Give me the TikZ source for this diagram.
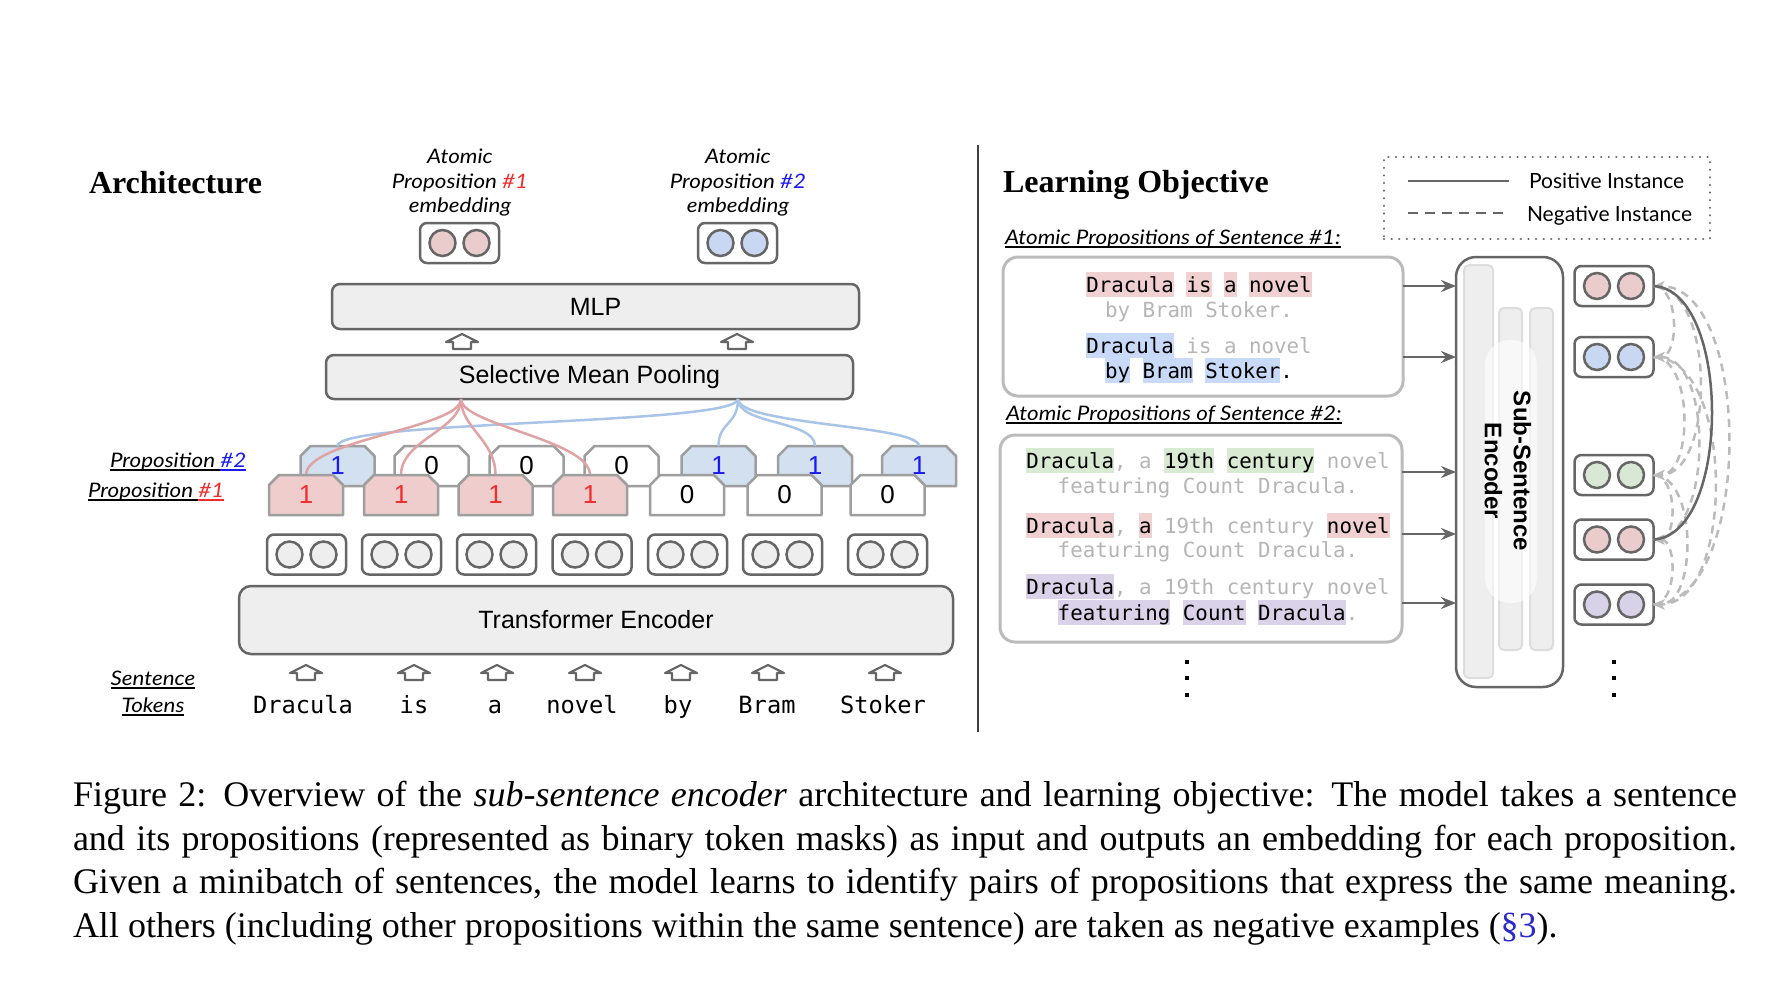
\documentclass[tikz,border=0pt]{standalone}
\usepackage{fontspec}
\setmainfont{Liberation Serif}
\newfontfamily\arialf{Liberation Sans}
\newfontfamily\gothf[FakeStretch=1.12]{Lato}
\newfontfamily\gothu{Lato}
\newfontfamily\monof{DejaVu Sans Mono}
\usetikzlibrary{arrows.meta}

\definecolor{linegray}{HTML}{666666}
\definecolor{boxgray}{HTML}{EEEEEE}
\definecolor{barline}{HTML}{DDDDDD}
\definecolor{maskgray}{HTML}{9E9E9E}
\definecolor{pinkc}{HTML}{EBCCCC}
\definecolor{bluec}{HTML}{C9D8F2}
\definecolor{greenc}{HTML}{D9E8D4}
\definecolor{purplec}{HTML}{D7D2E7}
\definecolor{maskpink}{HTML}{EFCDCD}
\definecolor{maskblue}{HTML}{D2E0F0}
\definecolor{redline}{HTML}{E0A3A3}
\definecolor{blueline}{HTML}{A8C4E6}
\definecolor{txtgray}{HTML}{B5B5B5}
\definecolor{sboxc}{HTML}{BBBBBB}
\definecolor{negc}{HTML}{BBBBBB}
\definecolor{hashred}{HTML}{F22B2B}
\definecolor{hashblue}{HTML}{1A1AF5}
\definecolor{linkblue}{HTML}{2A2ACC}
\definecolor{hlpink}{HTML}{F0D0D0}
\definecolor{hlblue}{HTML}{C9DAF8}
\definecolor{hlgreen}{HTML}{D9EAD3}
\definecolor{hlpurple}{HTML}{D9D2E9}

\newcommand\hlw[2]{{\setlength{\fboxsep}{0pt}\colorbox{#1}{\vrule height 20pt depth 5pt width 0pt #2}}}
\newcommand\gr[1]{\textcolor{txtgray}{#1}}
\newcommand\myul[1]{\setbox0\hbox{#1}\rlap{\rule[-4pt]{\wd0}{1.8pt}}\box0}

\newcommand\maskbox[5]{%
  \path[draw=maskgray, line width=2.5pt, fill=#4, line join=round]
    (#2-37,#3+40) -- (#2-37,#3+10) -- (#2-27,#3) -- (#2+27,#3) -- (#2+37,#3+10) -- (#2+37,#3+40) -- cycle;
  \node[masknode] (#1) at (#2,#3+20) {#5};
}
\newcommand\embbox[4]{%
  \node[embbox] (#1) at (#2,#3) {};
  \draw[draw=linegray, line width=2.5pt, fill=#4] (#2-17,#3) circle[radius=13];
  \draw[draw=linegray, line width=2.5pt, fill=#4] (#2+17,#3) circle[radius=13];
}

\begin{document}
\begin{tikzpicture}[x=1pt,y=-1pt,
  every node/.style={inner sep=0pt, outer sep=0pt},
  heading/.style={font=\bfseries\fontsize{32}{36}\selectfont},
  gitxt/.style={font=\gothf\itshape\fontsize{20}{24}\selectfont},
  gtxt/.style={font=\gothu\fontsize{21}{24}\selectfont},
  graybox/.style={draw=linegray, fill=boxgray, line width=2.5pt, rounded corners=8pt, font=\arialf\fontsize{25}{30}\selectfont},
  embbox/.style={draw=linegray, fill=white, line width=2.5pt, rounded corners=7pt, minimum width=79pt, minimum height=40pt},
  masknode/.style={minimum width=74pt, minimum height=40pt, font=\arialf\fontsize{26}{30}\selectfont},
  tok/.style={font=\monof\fontsize{23.7}{28}\selectfont},
  monotxt/.style={font=\monof\fontsize{20.8}{25}\selectfont},
  sbox/.style={draw=sboxc, fill=white, line width=3pt, rounded corners=15pt},
  redc/.style={draw=redline, line width=2.5pt},
  bluecv/.style={draw=blueline, line width=2.5pt},
  arr/.style={draw=linegray, line width=2.5pt, -{Stealth[length=15pt,width=12pt,inset=5pt]}},
  negl/.style={draw=negc, line width=2.5pt, dash pattern=on 8pt off 6pt, -{Stealth[length=11pt,width=10pt,inset=3pt]}},
  posl/.style={draw=linegray, line width=2.5pt},
  caption/.style={font=\fontsize{36}{42}\selectfont},
  hollowup/.pic={\draw[linegray, line width=2.2pt, fill=white, line join=round]
     (0,0) -- (16,8) -- (9,8) -- (9,15) -- (-9,15) -- (-9,8) -- (-16,8) -- cycle;}
]
\fill[white] (0,0) rectangle (1780,994);
\useasboundingbox (0,0) rectangle (1780,994);

% ---------------- Architecture ----------------
\node[heading, anchor=base west] (archt) at (89,193) {Architecture};

\node[gitxt, anchor=base] (ap1a) at (460,163) {Atomic};
\node[gitxt, anchor=base] (ap1b) at (460,188) {Proposition \textcolor{hashred}{\#1}};
\node[gitxt, anchor=base] (ap1c) at (460,212) {embedding};
\node[gitxt, anchor=base] (ap2a) at (738,163) {Atomic};
\node[gitxt, anchor=base] (ap2b) at (738,188) {Proposition \textcolor{hashblue}{\#2}};
\node[gitxt, anchor=base] (ap2c) at (738,212) {embedding};

\embbox{e1}{459.5}{243}{pinkc}
\embbox{e2}{737.5}{243}{bluec}

\node[graybox, minimum width=527pt, minimum height=45pt] (mlp) at (595.5,306.5) {MLP};
\pic at (462,334) {hollowup};
\pic at (737,334) {hollowup};
\node[graybox, minimum width=527pt, minimum height=44pt] (pool) at (589.5,377) {Selective Mean Pooling};

\coordinate (redhub) at (461,399);
\coordinate (bluehub) at (738,399);

% proposition #2 row (top)
\maskbox{ta}{337.5}{446}{maskblue}{\textcolor{hashblue}{1}}
\maskbox{tb}{431.5}{446}{white}{0}
\maskbox{tc}{526.5}{446}{white}{0}
\maskbox{td}{621.5}{446}{white}{0}
\maskbox{te}{718.5}{446}{maskblue}{\textcolor{hashblue}{1}}
\maskbox{tf}{815}{446}{maskblue}{\textcolor{hashblue}{1}}
\maskbox{tg}{919}{446}{maskblue}{\textcolor{hashblue}{1}}

% pooling curves
\draw[bluecv] (bluehub) .. controls (738,425) and (337.5,420) .. (ta.north);
\draw[bluecv] (bluehub) .. controls (738,425) and (718.5,422) .. (te.north);
\draw[bluecv] (bluehub) .. controls (738,425) and (815,420) .. (tf.north);
\draw[bluecv] (bluehub) .. controls (738,425) and (919,425) .. (tg.north);

% proposition #1 row (bottom)
\coordinate (b1top) at (306,475);
\coordinate (b2top) at (401,475);
\coordinate (b3top) at (495.5,475);
\coordinate (b4top) at (590,475);
\draw[redc] (redhub) .. controls (461,428) and (306,440) .. (b1top);
\draw[redc] (redhub) .. controls (461,430) and (401,440) .. (b2top);
\draw[redc] (redhub) .. controls (461,428) and (495.5,440) .. (b3top);
\draw[redc] (redhub) .. controls (461,425) and (590,440) .. (b4top);

\maskbox{ba}{306}{475}{maskpink}{\textcolor{hashred}{1}}
\maskbox{bb}{401}{475}{maskpink}{\textcolor{hashred}{1}}
\maskbox{bc}{495.5}{475}{maskpink}{\textcolor{hashred}{1}}
\maskbox{bd}{590}{475}{maskpink}{\textcolor{hashred}{1}}
\maskbox{be}{687}{475}{white}{0}
\maskbox{bf}{784.5}{475}{white}{0}
\maskbox{bg}{887.5}{475}{white}{0}

\node[gitxt, anchor=base west] (lp2) at (110,467) {\myul{Proposition\ }{\color{hashblue}\myul{\#2}}};
\node[gitxt, anchor=base west] (lp1) at (88,497) {\myul{Proposition\ }{\color{hashred}\myul{\#1}}};

% token embeddings
\embbox{t1}{306.5}{554.5}{boxgray}
\embbox{t2}{401.5}{554.5}{boxgray}
\embbox{t3}{496.5}{554.5}{boxgray}
\embbox{t4}{592}{554.5}{boxgray}
\embbox{t5}{687.5}{554.5}{boxgray}
\embbox{t6}{782.5}{554.5}{boxgray}
\embbox{t7}{887.5}{554.5}{boxgray}

\node[graybox, rounded corners=12pt, minimum width=714pt, minimum height=68pt] (trans) at (596,620) {Transformer Encoder};

\pic at (306,665) {hollowup};
\pic at (414,665) {hollowup};
\pic at (497,665) {hollowup};
\pic at (585,665) {hollowup};
\pic at (681,665) {hollowup};
\pic at (768,665) {hollowup};
\pic at (885,665) {hollowup};

\node[tok, anchor=base] (w1) at (303,713) {Dracula};
\node[tok, anchor=base] (w2) at (414,713) {is};
\node[tok, anchor=base] (w3) at (495,713) {a};
\node[tok, anchor=base] (w4) at (582,713) {novel};
\node[tok, anchor=base] (w5) at (678,713) {by};
\node[tok, anchor=base] (w6) at (767,713) {Bram};
\node[tok, anchor=base] (w7) at (883,713) {Stoker};

\node[gitxt, anchor=base] (st1) at (153,685) {\myul{Sentence}};
\node[gitxt, anchor=base] (st2) at (153,712) {\myul{Tokens}};

% separator
\draw[draw=black!75, line width=2pt] (978,145) -- (978,732);

% ---------------- Learning Objective ----------------
\node[heading, anchor=base west] (lot) at (1003,192) {Learning Objective};

\node[draw=linegray, line width=2.4pt, dash pattern=on 0.1pt off 7.5pt, line cap=round, minimum width=326pt, minimum height=82pt] (legend) at (1547,198) {};
\coordinate (lg1a) at (1408,181); \coordinate (lg1b) at (1509,181);
\coordinate (lg2a) at (1408,213); \coordinate (lg2b) at (1509,213);
\draw[posl] (lg1a) -- (lg1b);
\draw[posl, dash pattern=on 10pt off 7pt] (lg2a) -- (lg2b);
\node[gtxt, anchor=base west] (lgt1) at (1529,188) {Positive Instance};
\node[gtxt, anchor=base west] (lgt2) at (1527,221) {Negative Instance};

\node[gitxt, anchor=base west] (as1) at (1005,244) {\myul{Atomic Propositions of Sentence \#1:}};
\node[sbox, minimum width=400pt, minimum height=139pt] (s1) at (1203,326.5) {};
\node[monotxt, anchor=base] (s1l1) at (1199,292) {\hlw{hlpink}{Dracula} \hlw{hlpink}{is} \hlw{hlpink}{a} \hlw{hlpink}{novel}};
\node[monotxt, anchor=base] (s1l2) at (1199,317) {\gr{by Bram Stoker.}};
\node[monotxt, anchor=base] (s1l3) at (1199,353) {\hlw{hlblue}{Dracula} \gr{is a novel}};
\node[monotxt, anchor=base] (s1l4) at (1199,378) {\hlw{hlblue}{by} \hlw{hlblue}{Bram} \hlw{hlblue}{Stoker}.};

\node[gitxt, anchor=base west] (as2) at (1006,420) {\myul{Atomic Propositions of Sentence \#2:}};
\node[sbox, minimum width=402pt, minimum height=207pt] (s2) at (1201,538.5) {};
\node[monotxt, anchor=base] (s2l1) at (1208,468) {\hlw{hlgreen}{Dracula}\gr{, a} \hlw{hlgreen}{19th} \hlw{hlgreen}{century} \gr{novel}};
\node[monotxt, anchor=base] (s2l2) at (1208,493) {\gr{featuring Count Dracula.}};
\node[monotxt, anchor=base] (s2l3) at (1208,533) {\hlw{hlpink}{Dracula}\gr{,} \hlw{hlpink}{a} \gr{19th century} \hlw{hlpink}{novel}};
\node[monotxt, anchor=base] (s2l4) at (1208,557) {\gr{featuring Count Dracula.}};
\node[monotxt, anchor=base] (s2l5) at (1208,594) {\hlw{hlpurple}{Dracula}\gr{, a 19th century novel}};
\node[monotxt, anchor=base] (s2l6) at (1208,620) {\hlw{hlpurple}{featuring} \hlw{hlpurple}{Count} \hlw{hlpurple}{Dracula}\gr{.}};

\fill (1185,660) rectangle +(4,4);
\fill (1185,676) rectangle +(4,4);
\fill (1185,693) rectangle +(4,4);

% encoder
\node[draw=linegray, line width=2.5pt, fill=white, rounded corners=20pt, minimum width=107pt, minimum height=430pt] (enc) at (1509.5,472) {};
\draw[fill=boxgray, draw=barline, line width=2pt, rounded corners=5pt] (1464,265) rectangle (1493,678);
\draw[fill=boxgray, draw=barline, line width=2pt, rounded corners=5pt] (1499,308) rectangle (1522,650);
\draw[fill=boxgray, draw=barline, line width=2pt, rounded corners=5pt] (1530,308) rectangle (1553,650);
\fill[white, opacity=0.6, rounded corners=25pt] (1485,340) rectangle (1537,603);
\node[rotate=-90, align=center, font=\arialf\bfseries\fontsize{24}{29}\selectfont] (enct) at (1508,471) {Sub-Sentence\\Encoder};

\coordinate (a1) at (1403,286);
\coordinate (a2) at (1403,357);
\coordinate (a3) at (1402,472);
\coordinate (a4) at (1402,534);
\coordinate (a5) at (1402,603);
\draw[arr] (a1) -- (a1 -| enc.west);
\draw[arr] (a2) -- (a2 -| enc.west);
\draw[arr] (a3) -- (a3 -| enc.west);
\draw[arr] (a4) -- (a4 -| enc.west);
\draw[arr] (a5) -- (a5 -| enc.west);

% output embeddings
\embbox{o1}{1614}{286}{pinkc}
\embbox{o2}{1614}{357}{bluec}
\embbox{o3}{1614}{475}{greenc}
\embbox{o4}{1614}{539.5}{pinkc}
\embbox{o5}{1614}{604.5}{purplec}

\draw[negl] (o1.east) .. controls +(26,0) and +(26,0) .. (o2.east);
\draw[negl] (o1.east) .. controls +(62,0) and +(62,0) .. (o3.east);
\draw[negl] (o5.east) .. controls +(100,0) and +(100,0) .. (o1.east);
\draw[negl] (o2.east) .. controls +(40,0) and +(40,0) .. (o3.east);
\draw[negl] (o4.east) .. controls +(60,0) and +(60,0) .. (o2.east);
\draw[negl] (o2.east) .. controls +(82,0) and +(82,0) .. (o5.east);
\draw[negl] (o3.east) .. controls +(24,0) and +(24,0) .. (o4.east);
\draw[negl] (o3.east) .. controls +(44,0) and +(44,0) .. (o5.east);
\draw[negl] (o5.east) .. controls +(24,0) and +(24,0) .. (o4.east);
\draw[posl] (o1.east) .. controls +(78,4) and +(78,-4) .. (o4.east);

\fill (1612,660) rectangle +(4,4);
\fill (1612,676) rectangle +(4,4);
\fill (1612,693) rectangle +(4,4);

% ---------------- caption ----------------
\node[caption, anchor=base west] (cap1) at (73,806) {\makebox[1664pt][s]{Figure 2: Overview of the \textit{sub-sentence encoder} architecture and learning objective: The model takes a sentence}};
\node[caption, anchor=base west] (cap2) at (73,850) {\makebox[1664pt][s]{and its propositions (represented as binary token masks) as input and outputs an embedding for each proposition.}};
\node[caption, anchor=base west] (cap3) at (73,893) {\makebox[1664pt][s]{Given a minibatch of sentences, the model learns to identify pairs of propositions that express the same meaning.}};
\node[caption, anchor=base west] (cap4) at (73,937) {All others (including other propositions within the same sentence) are taken as negative examples (\textcolor{linkblue}{§3}).};
\end{tikzpicture}
\end{document}
